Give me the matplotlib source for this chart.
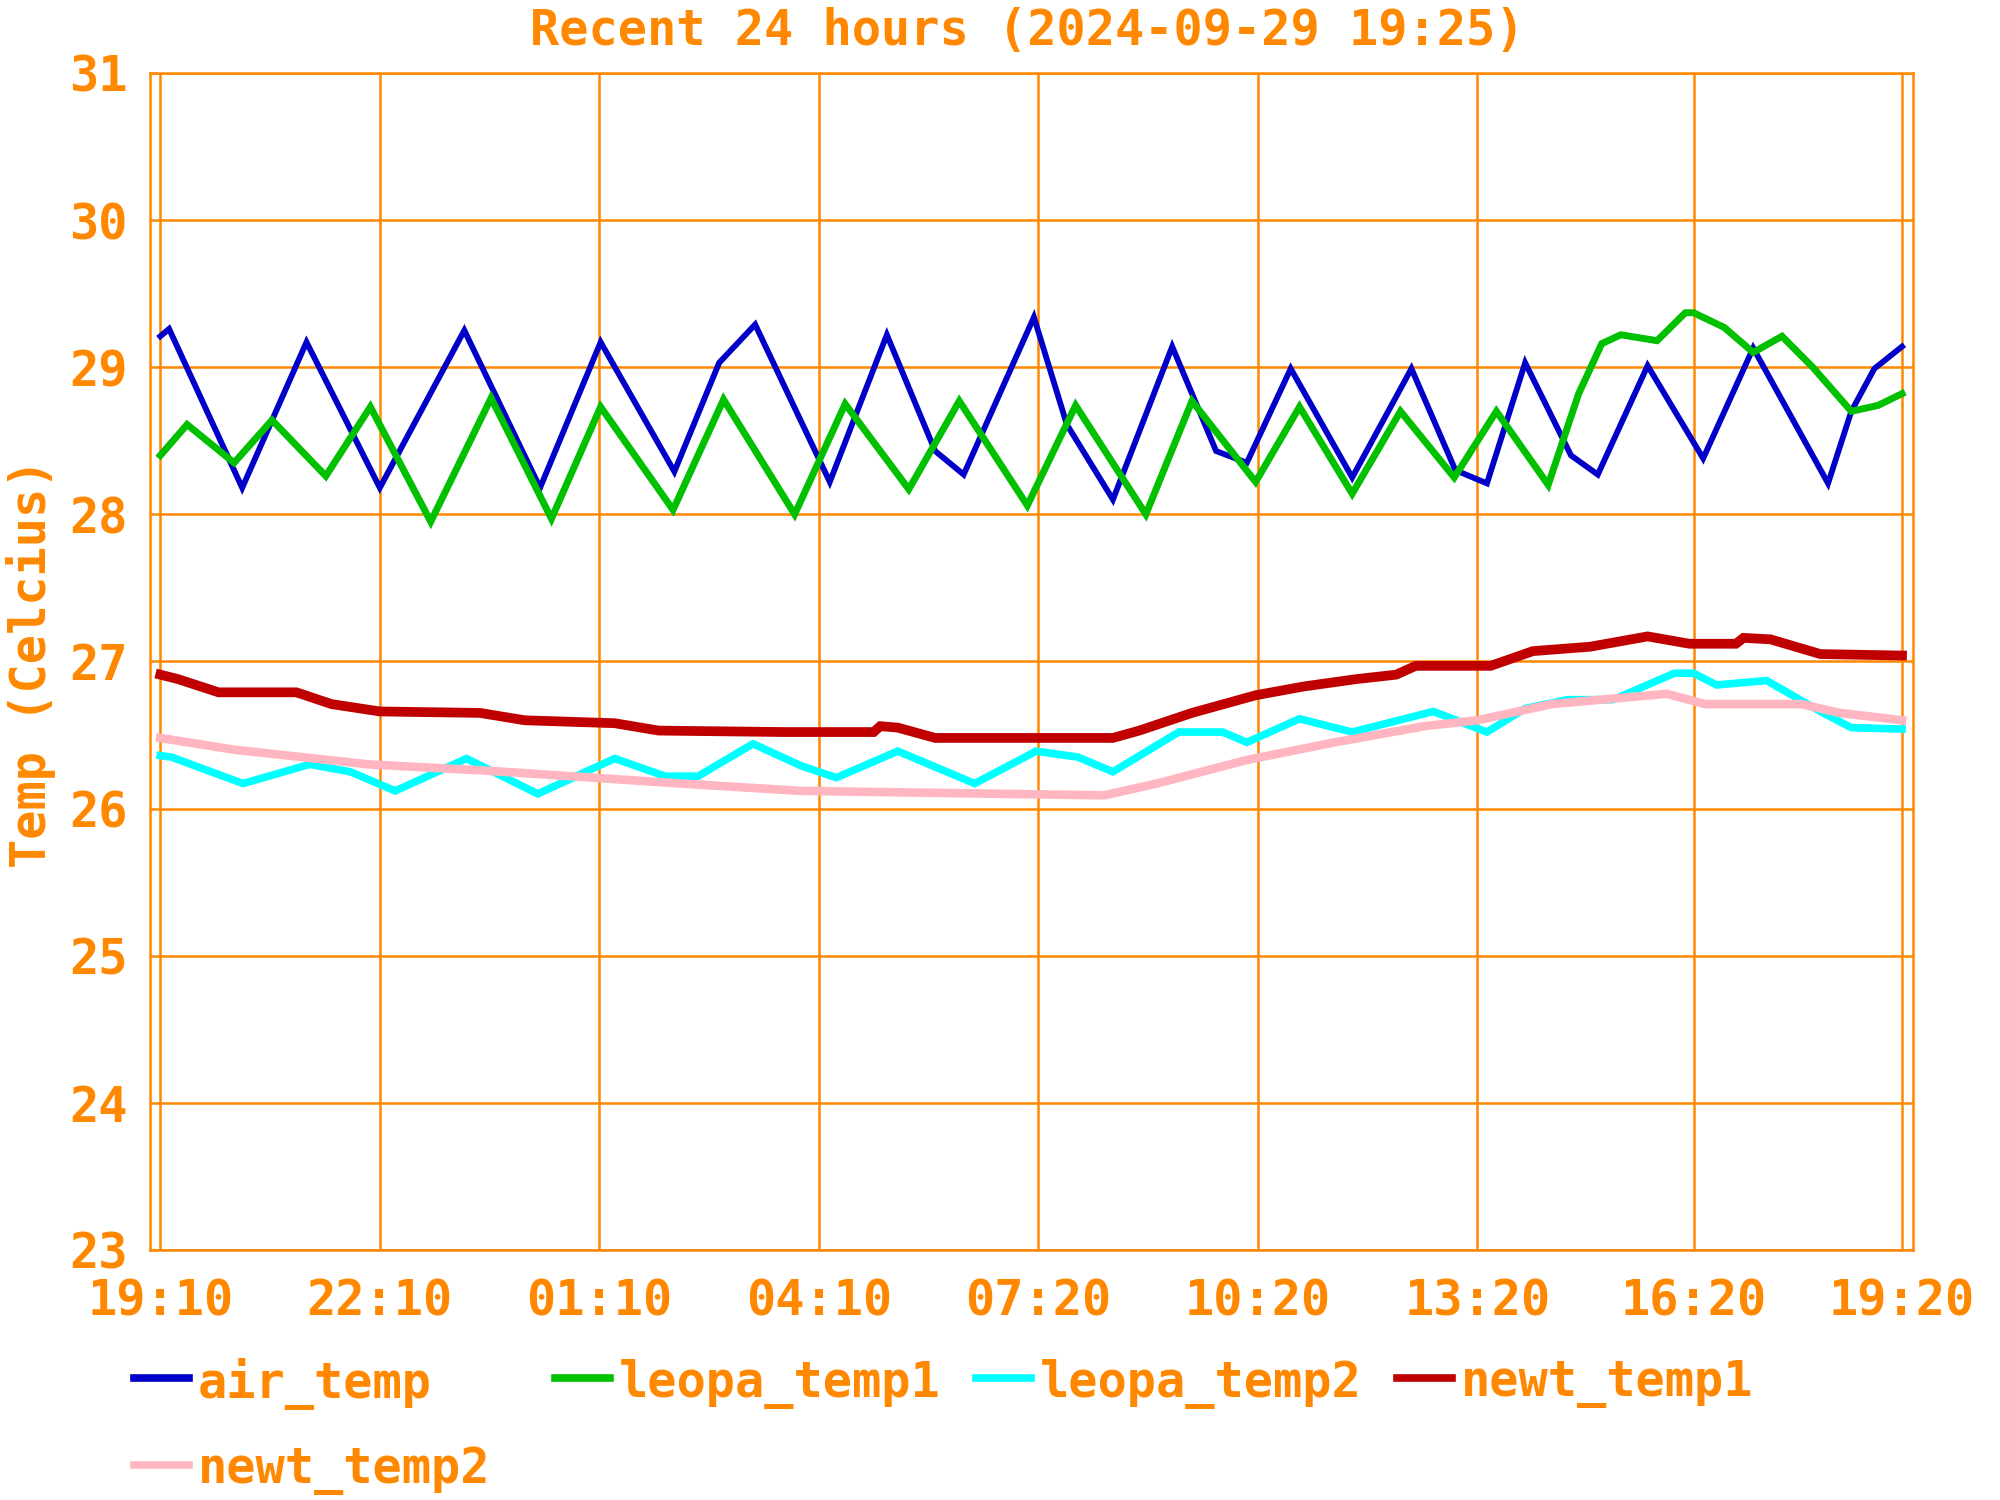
import matplotlib
matplotlib.use("Agg")
import matplotlib.pyplot as plt
from matplotlib.lines import Line2D

ORANGE = '#ff8800'
FONT = {'family': 'DejaVu Sans Mono', 'weight': 'bold', 'size': 35}

tick_labels = ['19:10', '22:10', '01:10', '04:10', '07:20', '10:20', '13:20', '16:20', '19:20']
# the last label interval on the original chart is a bit shorter than the others
tick_pos = [0, 1, 2, 3, 4, 5, 6, 6.985, 7.935]

# x = position on the time axis (in label slots, 0 = 19:10)
air_x = [0, 0.04, 0.373, 0.666, 1.0, 1.385, 1.73, 2.006, 2.342, 2.546, 2.71, 3.05, 3.31, 3.53, 3.66,
         3.98, 4.13, 4.34, 4.61, 4.81, 4.95, 5.15, 5.43, 5.70, 5.90, 6.044, 6.218, 6.427, 6.549, 6.776,
         7.029, 7.257, 7.598, 7.704, 7.809, 7.935]
air_y = [29.21, 29.26, 28.18, 29.17, 28.18, 29.25, 28.18, 29.17, 28.29, 29.03, 29.29, 28.22, 29.22, 28.43, 28.27,
         29.34, 28.61, 28.10, 29.14, 28.43, 28.35, 28.99, 28.25, 28.99, 28.30, 28.21, 29.03, 28.40, 28.27, 29.01,
         28.38, 29.13, 28.21, 28.70, 28.99, 29.14]

leopa1_x = [0, 0.122, 0.336, 0.509, 0.754, 0.957, 1.232, 1.507, 1.782, 2.006, 2.336, 2.566, 2.89, 3.12, 3.41,
            3.64, 3.95, 4.17, 4.49, 4.70, 4.99, 5.19, 5.43, 5.65, 5.895, 6.087, 6.323, 6.462, 6.567, 6.654, 6.819,
            6.948, 6.985, 7.125, 7.257, 7.388, 7.528, 7.704, 7.826, 7.935]
leopa1_y = [28.40, 28.61, 28.35, 28.64, 28.26, 28.73, 27.95, 28.79, 27.97, 28.73, 28.03, 28.78, 28.00, 28.75, 28.17,
            28.77, 28.06, 28.74, 28.00, 28.77, 28.22, 28.73, 28.14, 28.70, 28.25, 28.70, 28.20, 28.82, 29.16, 29.22, 29.18,
            29.37, 29.37, 29.27, 29.10, 29.21, 29.00, 28.70, 28.74, 28.82]

leopa2_x = [0, 0.05, 0.377, 0.68, 0.866, 1.07, 1.395, 1.72, 2.07, 2.3, 2.45, 2.70, 2.92, 3.08, 3.36, 3.71,
            3.99, 4.18, 4.34, 4.64, 4.84, 4.95, 5.19, 5.43, 5.80, 6.044, 6.218, 6.410, 6.619, 6.898, 6.985, 7.090,
            7.318, 7.563, 7.704, 7.935]
leopa2_y = [26.36, 26.35, 26.17, 26.30, 26.25, 26.12, 26.34, 26.10, 26.34, 26.22, 26.22, 26.44, 26.29, 26.21, 26.39, 26.17,
            26.39, 26.35, 26.25, 26.52, 26.52, 26.45, 26.61, 26.52, 26.66, 26.52, 26.68, 26.74, 26.74, 26.92, 26.92, 26.84,
            26.87, 26.66, 26.55, 26.54]

newt1_x = [0, 0.08, 0.265, 0.62, 0.78, 1.0, 1.456, 1.66, 2.07, 2.27, 2.84, 3.25, 3.28, 3.36, 3.53, 4.34, 4.46,
           4.70, 4.99, 5.21, 5.45, 5.63, 5.72, 6.061, 6.253, 6.514, 6.776, 6.967, 7.178, 7.213, 7.336, 7.563, 7.935]
newt1_y = [26.91, 26.88, 26.79, 26.79, 26.71, 26.66, 26.65, 26.60, 26.58, 26.53, 26.52, 26.52, 26.56, 26.55, 26.48, 26.48, 26.53,
           26.65, 26.77, 26.83, 26.88, 26.91, 26.97, 26.97, 27.07, 27.10, 27.17, 27.12, 27.12, 27.16, 27.15, 27.05, 27.04]

newt2_x = [0, 0.336, 0.95, 1.46, 1.97, 2.37, 2.92, 4.30, 4.54, 4.95, 5.35, 5.76, 6.0, 6.340, 6.863, 7.038, 7.476,
           7.651, 7.935]
newt2_y = [26.48, 26.40, 26.30, 26.26, 26.21, 26.17, 26.12, 26.09, 26.17, 26.33, 26.45, 26.56, 26.60, 26.71, 26.78, 26.71,
           26.71, 26.65, 26.60]

series = [
    ('air_temp', air_x, air_y, '#0000c8', 4.2),
    ('leopa_temp1', leopa1_x, leopa1_y, '#00c000', 5),
    ('leopa_temp2', leopa2_x, leopa2_y, '#00ffff', 5.5),
    ('newt_temp1', newt1_x, newt1_y, '#c00000', 7),
    ('newt_temp2', newt2_x, newt2_y, '#ffb6c1', 6.2),
]

fig = plt.figure(figsize=(20, 15), dpi=100)
fig.patch.set_facecolor('white')
ax = fig.add_axes([0.075, 0.1667, 0.8815, 0.7847])

for name, xs, ys, col, lw in series:
    ax.plot(xs, ys, color=col, lw=lw, solid_joinstyle='miter')

ax.set_xlim(-0.047, 7.985)
ax.set_ylim(23, 31)
ax.set_xticks(tick_pos)
ax.set_xticklabels(tick_labels, fontdict=FONT, color=ORANGE)
ax.set_yticks(range(23, 32))
ax.set_yticklabels([str(v) for v in range(23, 32)], fontdict=FONT, color=ORANGE)
ax.tick_params(axis='both', length=0)
ax.tick_params(axis='y', pad=16)
ax.tick_params(axis='x', pad=20)
ax.grid(True, color=ORANGE, lw=1.8)
ax.set_axisbelow(True)
for s in ax.spines.values():
    s.set_color(ORANGE)
    s.set_linewidth(1.8)

fig.text(0.5135, 0.979, 'Recent 24 hours (2024-09-29 19:25)', ha='center', va='center',
         fontdict=FONT, color=ORANGE)
fig.text(0.0155, 0.558, 'Temp (Celcius)', ha='center', va='center', rotation=90,
         fontdict=FONT, color=ORANGE)

# legend, laid out in fixed-width columns like the original
for i, (name, xs, ys, col, lw) in enumerate(series):
    row, c = divmod(i, 4)
    x0 = (134 + c * 421) / 2000
    y0 = 0.0773 - row * 0.058
    fig.add_artist(Line2D([x0, x0 + 55 / 2000], [y0 + 0.004, y0 + 0.004], color=col, lw=5.5,
                          transform=fig.transFigure))
    fig.text(x0 + 64 / 2000, y0, name, ha='left', va='center', fontdict=FONT, color=ORANGE)

fig.savefig('out.png', dpi=100, facecolor='white')
